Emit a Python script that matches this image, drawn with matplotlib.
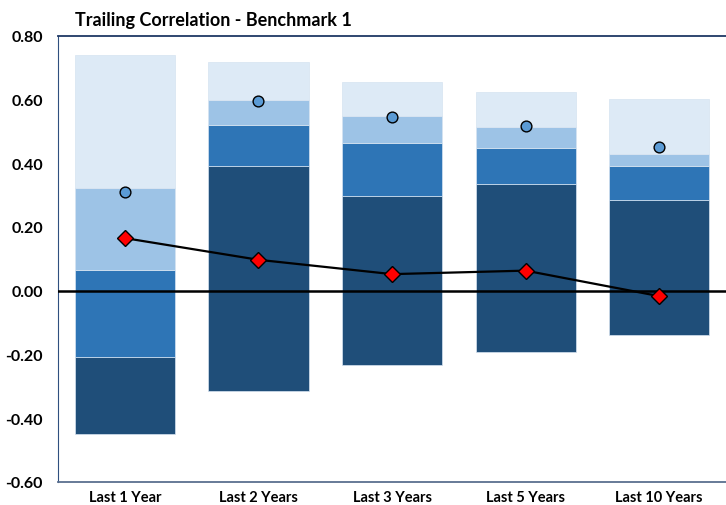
import matplotlib
matplotlib.use("Agg")
import matplotlib.pyplot as plt
import numpy as np

plt.rcParams['font.family'] = ['Lato', 'DejaVu Sans']
plt.rcParams['font.weight'] = 'bold'

# periods and percentile band edges (bottom -> top)
periods = ["Last 1 Year", "Last 2 Years", "Last 3 Years", "Last 5 Years", "Last 10 Years"]
p_min = [-0.449, -0.315, -0.232, -0.192, -0.138]
p_25 = [-0.209, 0.392, 0.298, 0.334, 0.283]
p_50 = [0.065, 0.520, 0.463, 0.448, 0.390]
p_75 = [0.323, 0.598, 0.549, 0.513, 0.429]
p_max = [0.739, 0.716, 0.655, 0.624, 0.601]
benchmark = [0.309, 0.595, 0.545, 0.517, 0.451]
portfolio = [0.165, 0.097, 0.052, 0.063, -0.017]

colors = ["#1f4e79", "#2e75b6", "#9dc3e6", "#ddeaf6"]

fig = plt.figure(figsize=(7.26, 5.06), dpi=100)
ax = fig.add_axes([0.08, 0.0455, 0.92, 0.882])

x = np.arange(len(periods))
edges = [p_min, p_25, p_50, p_75, p_max]
for i in range(4):
    lo = np.array(edges[i])
    hi = np.array(edges[i + 1])
    ax.bar(x, hi - lo, bottom=lo, width=0.75, color=colors[i],
           edgecolor="#d6e3f1", linewidth=0.5, zorder=2)

ax.axhline(0, color="black", lw=1.8, zorder=3)

ax.plot(x, portfolio, color="black", lw=1.6, marker="D", markersize=8,
        markerfacecolor="#ff0000", markeredgecolor="black", markeredgewidth=1, zorder=5)
ax.scatter(x, benchmark, s=60, color="#5b9bd5", edgecolor="black", linewidth=1, zorder=5)

ax.set_xlim(-0.5, 4.5)
ax.set_ylim(-0.6, 0.8)
ax.set_yticks(np.arange(-0.6, 0.81, 0.2))
ax.set_yticklabels([f"{v:.2f}" for v in np.arange(-0.6, 0.81, 0.2)], fontsize=11.5, fontweight="bold")
ax.set_xticks(x)
ax.set_xticklabels(periods, fontsize=10.5, fontweight="bold")
ax.tick_params(axis="both", length=0)
ax.tick_params(axis="y", pad=11)
ax.tick_params(axis="x", pad=6)

ax.spines["left"].set_color("#2f4f7f")
ax.spines["top"].set_color("#1f3864")
ax.spines["top"].set_linewidth(1.3)
ax.spines["bottom"].set_color("#5a6f8f")
ax.spines["bottom"].set_linewidth(1.3)
ax.spines["right"].set_visible(False)

fig.text(0.103, 0.96, "Trailing Correlation - Benchmark 1", fontsize=13, fontweight="bold",
         ha="left", va="center")

fig.savefig("out.png", dpi=100)
